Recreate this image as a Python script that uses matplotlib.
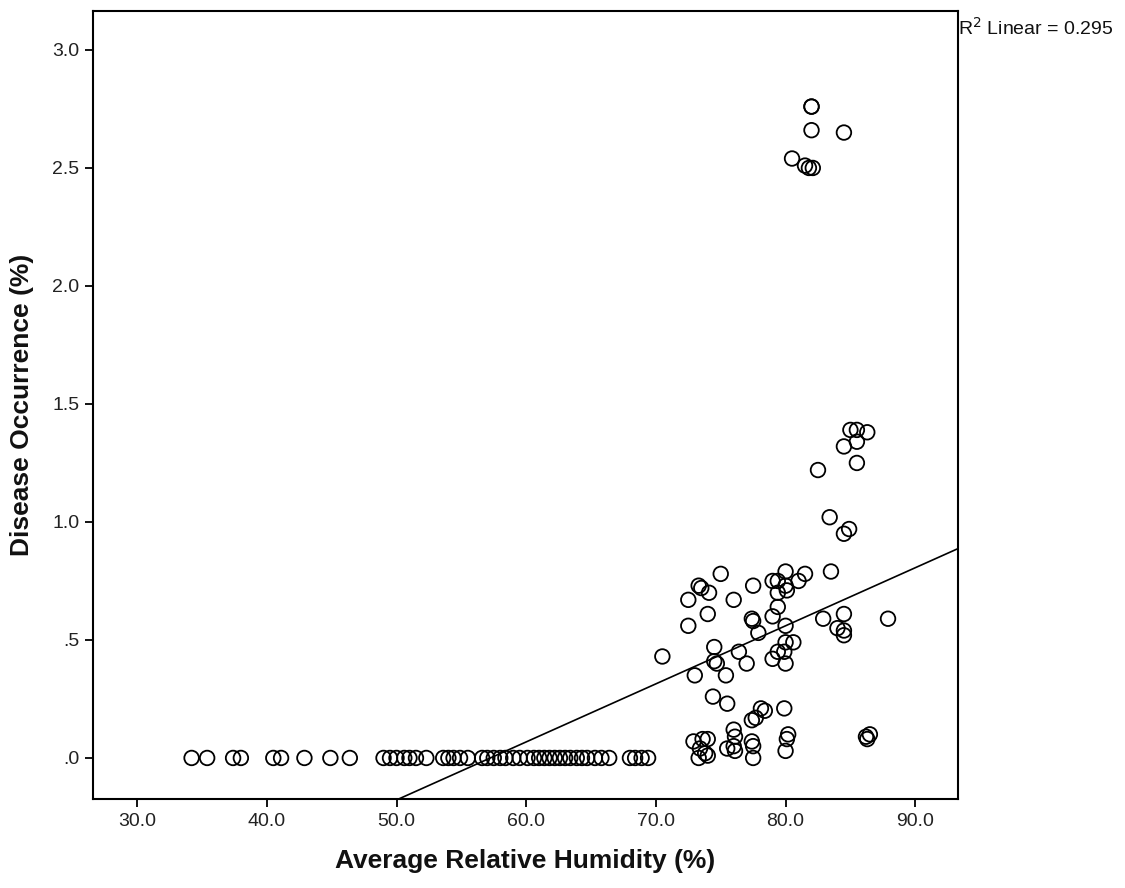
import matplotlib
matplotlib.use("Agg")
import matplotlib.pyplot as plt
import numpy as np

plt.rcParams["font.family"] = ["Liberation Sans", "DejaVu Sans"]

# humidity (%) vs disease occurrence (%), one pair per observation
zero_rh = [34.2, 35.4, 37.4, 38.0, 40.5, 41.1, 42.9, 44.9, 46.4,
           49.0, 49.5, 50.0, 50.6, 51.0, 51.5, 52.3, 53.6, 54.0, 54.4,
           54.9, 55.5, 56.6, 57.0, 57.5, 58.0, 58.4, 59.0, 59.5, 60.1,
           60.6, 61.0, 61.4, 61.8, 62.2, 62.6, 63.0, 63.4, 63.9, 64.3,
           64.7, 65.3, 65.8, 66.4, 68.0, 68.4, 68.9, 69.4]
zero_occ = [0.0] * len(zero_rh)

rh = [83.4, 84.5, 84.9, 75.0, 73.3, 73.5, 74.1, 72.5, 72.5, 74.0,
      76.0, 77.5, 80.0, 79.0, 79.4, 80.0, 80.1, 79.4, 81.0, 81.5,
      83.5, 79.4, 79.0, 77.4, 77.5, 77.9, 80.0, 82.9, 84.5, 84.0,
      84.5, 84.5, 87.9, 80.0, 80.6, 79.9, 79.4, 79.0, 80.0, 70.5,
      74.5, 74.5, 74.7, 76.4, 77.0, 73.0, 75.4, 74.4, 75.5, 78.1,
      78.4, 77.7, 77.4, 79.9, 86.2, 86.5, 86.3, 80.2, 80.1, 80.0,
      76.0, 76.1, 76.0, 75.5, 76.1, 77.4, 77.5, 77.5, 72.9, 73.6,
      74.0, 73.4, 73.8, 73.3, 74.0,
      85.0, 85.5, 86.3, 85.5, 84.5, 85.5, 82.5,
      82.0, 82.0, 82.0, 84.5, 80.5, 81.5, 82.1, 81.8]
occ = [1.02, 0.95, 0.97, 0.78, 0.73, 0.72, 0.70, 0.67, 0.56, 0.61,
       0.67, 0.73, 0.79, 0.75, 0.75, 0.73, 0.71, 0.70, 0.75, 0.78,
       0.79, 0.64, 0.60, 0.59, 0.58, 0.53, 0.56, 0.59, 0.61, 0.55,
       0.54, 0.52, 0.59, 0.49, 0.49, 0.45, 0.45, 0.42, 0.40, 0.43,
       0.47, 0.41, 0.40, 0.45, 0.40, 0.35, 0.35, 0.26, 0.23, 0.21,
       0.20, 0.17, 0.16, 0.21, 0.09, 0.10, 0.08, 0.10, 0.08, 0.03,
       0.12, 0.09, 0.05, 0.04, 0.03, 0.07, 0.05, 0.00, 0.07, 0.08,
       0.08, 0.04, 0.02, 0.00, 0.01,
       1.39, 1.39, 1.38, 1.34, 1.32, 1.25, 1.22,
       2.76, 2.76, 2.66, 2.65, 2.54, 2.51, 2.50, 2.50]

# least-squares line shown on the plot
fit_slope = 0.0246
fit_intercept = -1.408
r2 = 0.295

xticks = [30, 40, 50, 60, 70, 80, 90]
yticks = [0.0, 0.5, 1.0, 1.5, 2.0, 2.5, 3.0]
ytick_labels = [".0", ".5", "1.0", "1.5", "2.0", "2.5", "3.0"]

fig = plt.figure(figsize=(11.25, 8.88), dpi=100)
ax = fig.add_axes([0.0827, 0.1002, 0.7689, 0.8874])

x_all = zero_rh + rh
y_all = zero_occ + occ
ax.scatter(x_all, y_all, s=110, facecolors="none", edgecolors="black",
           linewidths=1.3, zorder=3)

xlim = (26.6, 93.3)
xs = np.array(xlim)
ax.plot(xs, fit_slope * xs + fit_intercept, color="black", lw=1.2, zorder=2)

ax.set_xlim(*xlim)
ax.set_ylim(-0.174, 3.165)
ax.set_xticks(xticks)
ax.set_xticklabels([f"{v:.1f}" for v in xticks])
ax.set_yticks(yticks)
ax.set_yticklabels(ytick_labels)
ax.tick_params(direction="out", length=6, width=1.3, labelsize=14,
               colors="black", labelcolor="#222222", pad=4)
for sp in ax.spines.values():
    sp.set_linewidth(1.5)

ax.set_xlabel("Average Relative Humidity (%)", fontsize=19,
              fontweight="bold", labelpad=14, color="#111111")
ax.set_ylabel("Disease Occurrence (%)", fontsize=19,
              fontweight="bold", labelpad=13, color="#111111")

ax.text(1.0, 0.979, f"R$^2$ Linear = {r2:.3f}", transform=ax.transAxes,
        ha="left", va="center", fontsize=14, color="#111111")

fig.savefig("out.png", dpi=100, facecolor="white")
